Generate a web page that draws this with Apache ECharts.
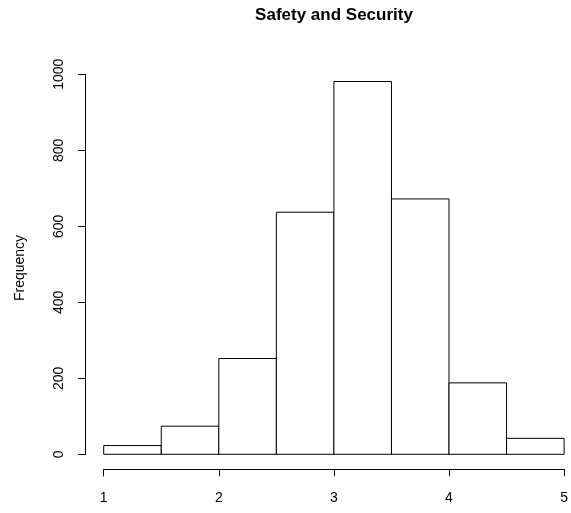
<!DOCTYPE html>
<html><head><meta charset="utf-8">
<script src="https://cdn.jsdelivr.net/npm/echarts@6/dist/echarts.min.js"></script>
<style>html,body{margin:0;padding:0;background:#fff}#c{width:571px;height:513px}</style>
</head><body><div id="c"></div>
<script>
var title = "Safety and Security";
var yLabel = "Frequency";
var binStarts = [1, 1.5, 2, 2.5, 3, 3.5, 4, 4.5];
var binEnds = [1.5, 2, 2.5, 3, 3.5, 4, 4.5, 5];
var counts = [23, 74, 252, 637, 981, 672, 188, 42];

var data = counts.map(function (c, i) { return [binStarts[i], binEnds[i], c]; });
var font = '"Liberation Sans", Arial, sans-serif';
var chart = echarts.init(document.getElementById('c'), null, {renderer: 'canvas'});
chart.setOption({
  animation: false,
  backgroundColor: '#fff',
  grid: {left: 103.7, right: 5.3, top: 74.3, bottom: 58.7, containLabel: false},
  xAxis: {
    type: 'value', min: 1, max: 5, interval: 1, offset: 15,
    axisLine: {show: true, onZero: false, lineStyle: {color: '#000', width: 1}},
    axisTick: {show: true, length: 7, lineStyle: {color: '#000'}},
    axisLabel: {color: '#000', fontSize: 14, fontFamily: font, margin: 22, formatter: function (v) { return String(v); }},
    splitLine: {show: false}
  },
  yAxis: {
    type: 'value', min: 0, max: 1000, interval: 200, offset: 18.7,
    axisLine: {show: true, lineStyle: {color: '#000', width: 1}},
    axisTick: {show: true, length: 7, lineStyle: {color: '#000'}},
    axisLabel: {color: '#000', fontSize: 14, fontFamily: font, rotate: 90, margin: 19, formatter: function (v) { return String(v); }},
    splitLine: {show: false}
  },
  graphic: [
    {type: 'text', x: 334, y: 15, style: {text: title, fontSize: 17, fontWeight: 'bold', fontFamily: font, fill: '#000', align: 'center', verticalAlign: 'middle'}},
    {type: 'text', x: 20, y: 268, rotation: Math.PI / 2, style: {text: yLabel, fontSize: 14, fontFamily: font, fill: '#000', align: 'center', verticalAlign: 'middle'}}
  ],
  series: [{
    type: 'custom',
    clip: false,
    data: data,
    encode: {x: [0, 1], y: 2},
    renderItem: function (params, api) {
      var p0 = api.coord([api.value(0), 0]);
      var p1 = api.coord([api.value(1), api.value(2)]);
      return {
        type: 'rect',
        shape: {x: p0[0], y: p1[1], width: p1[0] - p0[0], height: p0[1] - p1[1]},
        style: {fill: '#fff', stroke: '#000', lineWidth: 1}
      };
    }
  }]
});
</script></body></html>
